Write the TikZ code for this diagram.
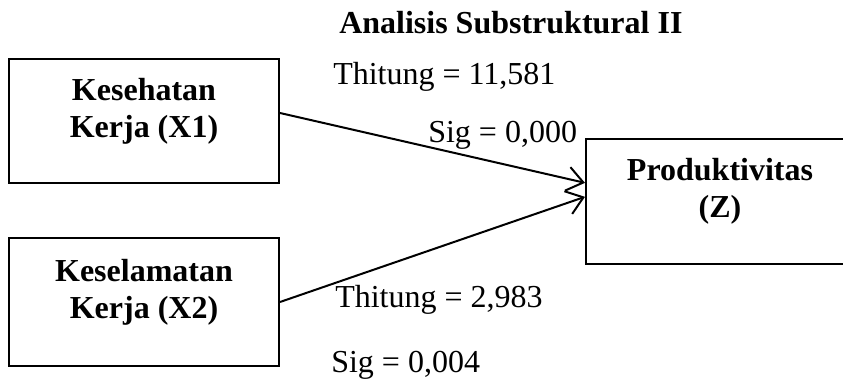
\documentclass[tikz,border=0pt]{standalone}
\usepackage{fontspec}
\setmainfont{Liberation Serif}
\usetikzlibrary{arrows.meta}

\tikzset{
  varbox/.style={draw, line width=1.5pt, inner sep=0pt},
  vartext/.style={align=center, inner sep=0pt, yshift=7.5pt,
    font=\fontsize{24}{27.75}\selectfont\bfseries},
  pathlink/.style={line width=1.5pt, -{Straight Barb[length=12pt,width=18pt,line width=1.5pt]}},
  stat/.style={inner sep=0pt, anchor=base west, font=\fontsize{24}{28}\selectfont},
}

\begin{document}
\begin{tikzpicture}[x=0.75pt, y=-0.75pt]
  \useasboundingbox (0,0) rectangle (843,392);
  \clip (0,0) rectangle (843,392);

  % title
  \node[stat, font=\fontsize{24}{28}\selectfont\bfseries] (title) at (339,34) {Analisis Substruktural II};

  % variables
  \node[varbox, minimum width=202.5pt, minimum height=93pt] (x1) at (144,121) {};
  \node[vartext] (x1t) at (x1) {Kesehatan\\Kerja (X1)};
  \node[varbox, minimum width=202.5pt, minimum height=96pt] (x2) at (144,302) {};
  \node[vartext] (x2t) at (x2) {Keselamatan\\Kerja (X2)};
  \node[varbox, minimum width=201pt, minimum height=94pt] (z) at (720,201.5) {};
  \node[vartext] (zt) at (z) {Produktivitas\\(Z)};

  % paths
  \draw[pathlink] ([yshift=6pt]x1.east) -- ([yshift=14pt]z.west);
  \draw[pathlink] (x2.east) -- ([yshift=3.5pt]z.west);

  % statistics
  \node[stat] (t1) at (333,85) {Thitung = 11,581};
  \node[stat] (s1) at (428,143) {Sig = 0,000};
  \node[stat] (t2) at (335,307) {Thitung = 2,983};
  \node[stat] (s2) at (331,372) {Sig = 0,004};
\end{tikzpicture}
\end{document}
